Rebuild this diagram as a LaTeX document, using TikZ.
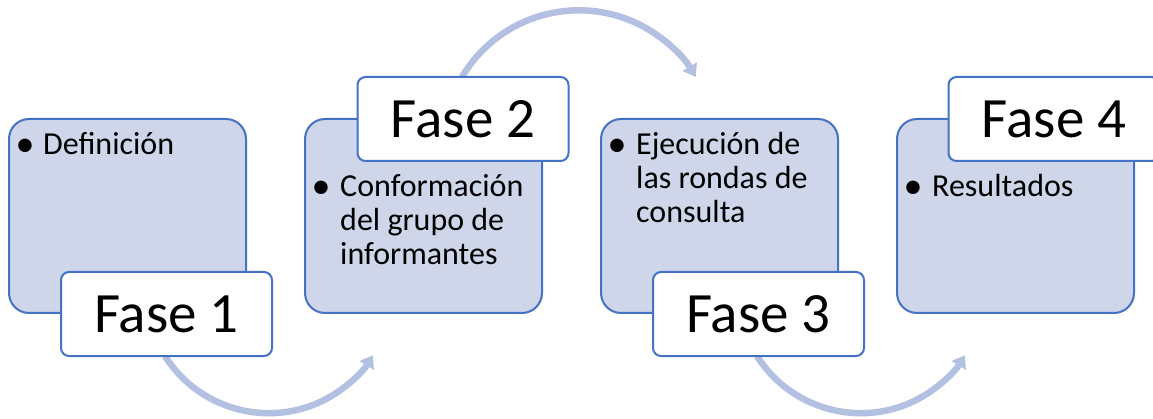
\documentclass[tikz,border=0pt]{standalone}
\usepackage{fontspec}
\setmainfont{Carlito}
\usetikzlibrary{arrows.meta,calc}
\definecolor{boxfill}{HTML}{CFD6EA}
\definecolor{boxline}{HTML}{4472C4}
\definecolor{arcc}{HTML}{B3C0E1}
\begin{document}
\begin{tikzpicture}[x=1pt,y=-1pt,
  phasebox/.style={draw=boxline,line width=2pt,fill=boxfill,rounded corners=20pt,
    minimum width=237pt,minimum height=194pt,inner sep=0pt},
  labelbox/.style={draw=boxline,line width=2pt,fill=white,rounded corners=8pt,
    minimum width=211pt,minimum height=84pt,inner sep=0pt,
    font=\fontsize{57}{60}\selectfont},
  bullettext/.style={anchor=base west,inner sep=0pt,align=left,
    font=\fontsize{32}{34}\selectfont},
  bulletmark/.style={anchor=base,inner sep=0pt,font=\fontsize{38}{38}\selectfont},
  flowarc/.style={draw=arcc,line width=6.5pt,
    -{Triangle[length=12pt,width=16pt]}}]
\useasboundingbox (0,0) rectangle (1153,419);
% label box centres (needed for arcs); the boxes are drawn later on top
\path (166.5,314) coordinate (l1c) (463,119) coordinate (l2c) (758.5,314) coordinate (l3c);
% arcs (behind)
\draw[flowarc] ($(l1c)+(-1.5,42)$) arc[start angle=147.7,end angle=31.9,radius=122.8];
\draw[flowarc] ($(l2c)+(-1,-42)$) arc[start angle=-149.4,end angle=-30.6,radius=135.8];
\draw[flowarc] ($(l3c)+(-1.5,42)$) arc[start angle=147.7,end angle=31.9,radius=122.8];
% main boxes
\node[phasebox] (b1) at (127.5,216) {};
\node[phasebox] (b2) at (423.5,216) {};
\node[phasebox] (b3) at (719.5,216) {};
\node[phasebox] (b4) at (1015.5,216) {};
% bullet texts (base anchor = last line's baseline)
\node[bulletmark] (m1) at (25,157) {•};
\node[bullettext] (t1) at (43,155) {Definición};
\node[bulletmark] (m2) at (321,199) {•};
\node[bullettext] (t2) at (340,265) {Conformación\\del grupo de\\informantes};
\node[bulletmark] (m3) at (617,157) {•};
\node[bullettext] (t3) at (636,223) {Ejecución de\\las rondas de\\consulta};
\node[bulletmark] (m4) at (913,199) {•};
\node[bullettext] (t4) at (932,197) {Resultados};
% label boxes
\node[labelbox] (l1) at (l1c) {Fase 1};
\node[labelbox] (l2) at (l2c) {Fase 2};
\node[labelbox] (l3) at (l3c) {Fase 3};
\node[labelbox] (l4) at (1054,119) {Fase 4};
\end{tikzpicture}
\end{document}
